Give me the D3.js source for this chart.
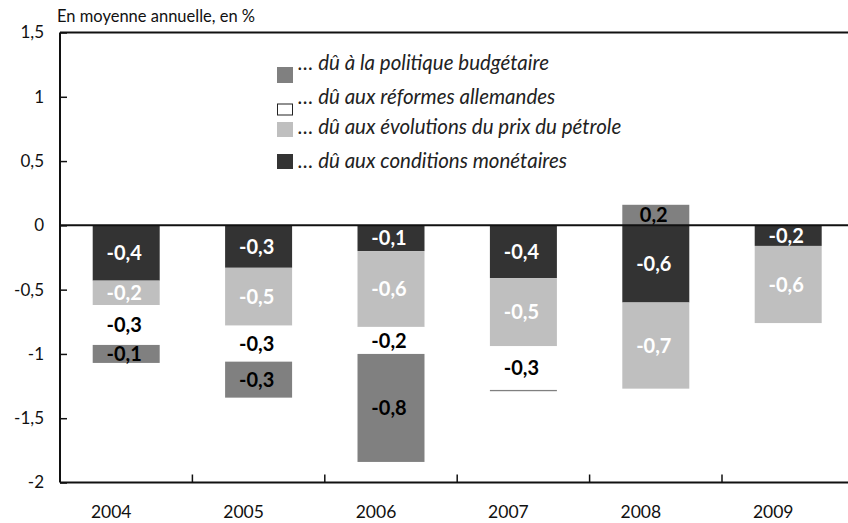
<!DOCTYPE html>
<meta charset="utf-8">
<style>
  body { margin: 0; background: #fff; }
  text { font-family: Lato, "Open Sans", sans-serif; }
  .seg-label { font-size: 20px; font-weight: bold; }
  .legend text { font-size: 20.5px; font-style: italic; fill: #222; }
</style>
<svg width="848" height="523"></svg>
<script src="https://d3js.org/d3.v7.min.js"></script>
<script>
var svg = d3.select("svg");

// years on the x axis
var years = ["2004", "2005", "2006", "2007", "2008", "2009"];

// contributions (en %)
var monetaire  = [-0.43, -0.33, -0.20, -0.41, -0.60, -0.16];
var petrole    = [-0.19, -0.45, -0.59, -0.53, -0.67, -0.60];
var reformes   = [-0.31, -0.28, -0.21, -0.34,  0.00,  0.00];
var budgetaire = [-0.14, -0.28, -0.84, -0.01,  0.16,  0.00];

// the printed labels (as shown on the chart)
var lblMonetaire  = ["-0,4", "-0,3", "-0,1", "-0,4", "-0,6", "-0,2"];
var lblPetrole    = ["-0,2", "-0,5", "-0,6", "-0,5", "-0,7", "-0,6"];
var lblReformes   = ["-0,3", "-0,3", "-0,2", "-0,3", "", ""];
var lblBudgetaire = ["-0,1", "-0,3", "-0,8", "", "0,2", ""];

var yTicks = [1.5, 1, 0.5, 0, -0.5, -1, -1.5, -2];

var series = [
  {key: "monetaire",  vals: monetaire,  lbls: lblMonetaire,  fill: "#333333", txt: "#fff"},
  {key: "petrole",    vals: petrole,    lbls: lblPetrole,    fill: "#bfbfbf", txt: "#fff"},
  {key: "reformes",   vals: reformes,   lbls: lblReformes,   fill: "#ffffff", txt: "#000"},
  {key: "budgetaire", vals: budgetaire, lbls: lblBudgetaire, fill: "#808080", txt: "#000"}
];

var legendItems = [
  {text: "\u2026 dû à la politique budgétaire",          fill: "#808080", box: [67, 16],   base: 70},
  {text: "\u2026 dû aux réformes allemandes",            fill: "#ffffff", box: [104, 11],  base: 103.5, stroke: true},
  {text: "\u2026 dû aux évolutions du prix du pétrole",  fill: "#bfbfbf", box: [122, 15],  base: 134},
  {text: "\u2026 dû aux conditions monétaires",          fill: "#333333", box: [154, 15],  base: 168}
];

var plotL = 60, plotT = 32.5, plotB = 482.5, step = 132.4;

var table = years.map(function(y, i) {
  var row = {year: y};
  series.forEach(function(s) { row[s.key] = s.vals[i]; });
  return row;
});

var stack = d3.stack()
  .keys(series.map(function(s) { return s.key; }))
  .offset(d3.stackOffsetDiverging);
var stacked = stack(table);

var x = d3.scaleBand()
  .domain(years)
  .range([plotL, plotL + step * years.length])
  .paddingInner(0.494)
  .paddingOuter(0.247);

var y = d3.scaleLinear().domain([-2, 1.5]).range([plotB, plotT]);

// bars
var layers = svg.append("g").selectAll("g")
  .data(stacked)
  .enter().append("g")
  .attr("fill", function(d, i) { return series[i].fill; });

layers.selectAll("rect")
  .data(function(d) { return d; })
  .enter().append("rect")
  .attr("x", function(d) { return x(d.data.year); })
  .attr("width", x.bandwidth())
  .attr("y", function(d) { return y(Math.max(d[0], d[1])); })
  .attr("height", function(d) { return Math.abs(y(d[0]) - y(d[1])); });

// segment labels
stacked.forEach(function(layer, si) {
  svg.append("g").selectAll("text")
    .data(layer)
    .enter().append("text")
    .attr("class", "seg-label")
    .attr("x", function(d) { return x(d.data.year) + x.bandwidth() / 2 - 2; })
    .attr("y", function(d) { return (y(d[0]) + y(d[1])) / 2; })
    .attr("dy", "0.36em")
    .attr("text-anchor", "middle")
    .attr("fill", series[si].txt)
    .text(function(d, i) { return series[si].lbls[i]; });
});

// frame: top line, zero line
svg.append("line").attr("x1", plotL).attr("x2", 848).attr("y1", plotT).attr("y2", plotT)
  .attr("stroke", "#111").attr("stroke-width", 2);
svg.append("line").attr("x1", plotL).attr("x2", 848).attr("y1", y(0)).attr("y2", y(0))
  .attr("stroke", "#111").attr("stroke-width", 2);

// y axis
var yAxis = svg.append("g")
  .attr("transform", "translate(" + plotL + ",0)")
  .call(d3.axisRight(y).tickValues(yTicks).tickSize(7)
    .tickFormat(function(d) { return String(d).replace(".", ","); }));
yAxis.select(".domain").attr("stroke", "#111").attr("stroke-width", 2)
  .attr("d", "M0," + plotT + "V" + plotB);
yAxis.selectAll(".tick line").attr("stroke", "#111").attr("stroke-width", 1.5);
yAxis.selectAll(".tick text")
  .attr("x", -16).attr("text-anchor", "end")
  .style("font-size", "17px").style("font-family", "Lato, sans-serif")
  .attr("fill", "#111");

// x axis
var xAxis = svg.append("g")
  .attr("transform", "translate(0," + plotB + ")")
  .call(d3.axisBottom(x).tickSize(0).tickPadding(23));
xAxis.select(".domain").attr("stroke", "#111").attr("stroke-width", 2)
  .attr("d", "M" + plotL + ",0H848");
xAxis.selectAll(".tick text")
  .attr("dx", -15)
  .style("font-size", "17.5px").style("font-family", "Lato, sans-serif")
  .attr("fill", "#111");

svg.append("g").selectAll("line")
  .data(years.slice(1))
  .enter().append("line")
  .attr("x1", function(d) { return x(d) - x.step() * x.paddingInner() / 2; })
  .attr("x2", function(d) { return x(d) - x.step() * x.paddingInner() / 2; })
  .attr("y1", plotB - 8).attr("y2", plotB)
  .attr("stroke", "#111").attr("stroke-width", 1.5);

// unit note
svg.append("text")
  .attr("x", 57).attr("y", 22)
  .style("font-size", "16.5px").attr("fill", "#111")
  .text("En moyenne annuelle, en %");

// legend
var legend = svg.append("g").attr("class", "legend");
legendItems.forEach(function(it) {
  legend.append("rect")
    .attr("x", it.stroke ? 277.5 : 277).attr("y", it.box[0])
    .attr("width", it.stroke ? 15 : 16).attr("height", it.box[1])
    .attr("fill", it.fill)
    .attr("stroke", it.stroke ? "#222" : "none");
  legend.append("text")
    .attr("x", 298).attr("y", it.base)
    .text(it.text);
});
</script>
